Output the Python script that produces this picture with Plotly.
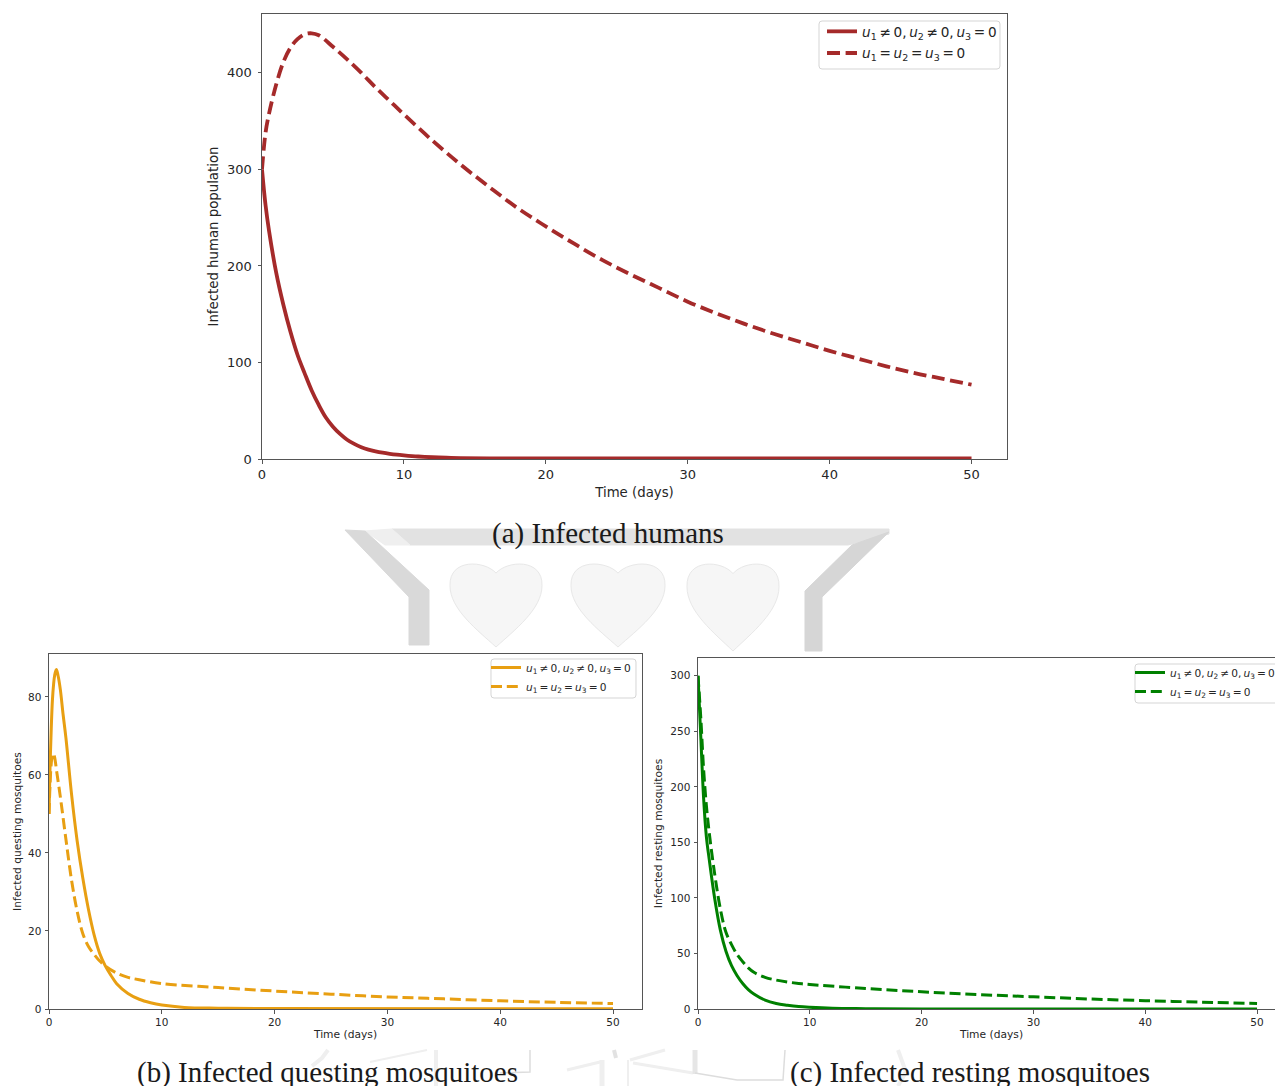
import plotly.graph_objects as go

# ---------- data ----------
t_a_solid = [0, 0.25, 0.5, 1, 1.5, 2, 2.5, 3, 3.5, 4, 4.5, 5, 5.5, 6, 6.5, 7, 7.5, 8, 8.5, 9, 9.5, 10, 11, 12, 13, 14, 16, 20, 30, 50]
i_a_solid = [300, 263, 236, 193, 160, 132, 108, 89, 71, 56, 43, 33.5, 26, 20, 15.6, 12.2, 9.7, 7.9, 6.5, 5.4, 4.5, 3.8, 2.6, 1.8, 1.3, 1, 0.7, 0.6, 0.5, 0.5]
t_a_dash = [0, 0.25, 0.5, 1, 1.5, 2, 2.5, 3, 3.5, 4, 5, 6, 7, 8, 9, 10, 12, 14, 16, 18, 20, 22, 24, 26, 28,
            30, 32, 34, 36, 38, 40, 42, 44, 46, 48, 50]
i_a_dash = [300, 338, 358, 388, 411, 426, 435, 440, 441, 439, 427, 414, 400, 385, 371, 357, 330, 305, 282, 260,
            241, 223, 206, 191, 177, 163, 151, 140, 130, 121, 112, 104, 96, 89, 83, 77]

t_b_solid = [0, 0.1, 0.2, 0.3, 0.4, 0.5, 0.65, 0.8, 1, 1.25, 1.5, 2, 2.5, 3, 3.5, 4, 4.5, 5, 5.5, 6, 7, 8, 9, 10, 12, 15, 20, 50]
i_b_solid = [50, 63, 72, 79, 83, 85.5, 87, 85.5, 82, 75.5, 69.5, 55, 43, 33.5, 25.5, 19, 14.2, 11, 8.6, 6.5, 4, 2.5, 1.6, 1, 0.4, 0.2, 0.1, 0.05]
t_b_dash = [0, 0.1, 0.2, 0.3, 0.4, 0.5, 0.7, 1, 1.5, 2, 2.5, 3, 3.5, 4, 4.5, 5, 6, 7, 8, 10, 15, 20, 25, 30, 35, 40, 45, 50]
i_b_dash = [50, 58, 63, 65, 65.5, 64.5, 60.5, 54.5, 43.5, 33, 25, 19.3, 16, 14, 12.3, 11, 9.2, 8.1, 7.5, 6.5, 5.5, 4.6, 3.8, 3.1, 2.6, 2.1, 1.7, 1.4]

t_c_solid = [0, 0.25, 0.5, 0.75, 1, 1.5, 2, 2.5, 3, 3.5, 4, 4.5, 5, 6, 7, 8, 9, 10, 12, 15, 20, 50]
i_c_solid = [300, 245, 190, 155, 135, 99, 71, 52, 39, 30, 23, 17.5, 13.5, 8, 5, 3.4, 2.2, 1.5, 0.6, 0.3, 0.1, 0.05]
t_c_dash = [0, 0.25, 0.5, 0.75, 1, 1.5, 2, 2.5, 3, 3.5, 4, 4.5, 5, 6, 7, 8, 9, 10, 15, 20, 25, 30, 35, 40, 45, 50]
i_c_dash = [300, 262, 216, 183, 159, 121, 90, 69, 58, 49, 42.6, 37, 33, 28.5, 26, 24.3, 23, 22, 18.5, 15.5, 13, 11, 9, 7.5, 6.2, 5]

label_solid = "<i>u</i><sub>1</sub>\u2009≠\u20090,\u2009<i>u</i><sub>2</sub>\u2009≠\u20090,\u2009<i>u</i><sub>3</sub>\u2009=\u20090"
label_dash = "<i>u</i><sub>1</sub>\u2009=\u2009<i>u</i><sub>2</sub>\u2009=\u2009<i>u</i><sub>3</sub>\u2009=\u20090"
x_title = "Time (days)"
y_titles = ["Infected human population", "Infected questing mosquitoes", "Infected resting mosquitoes"]
captions = ["(a) Infected humans", "(b) Infected questing mosquitoes", "(c) Infected resting mosquitoes"]

# ---------- layout helpers ----------
W, H = 1300, 1086
FONT = "DejaVu Sans"
TXT = "#262626"
AX = "#555555"
def px(x): return x / W
def py(y): return 1 - y / H
def pt(a, b): return f"{a/W:.5f},{1-b/H:.5f}"

def poly(points):
    return "M " + " L ".join(pt(a, b) for a, b in points) + " Z"

def heart(cx, top, w, h):
    L, R, T, B = cx - w / 2, cx + w / 2, top, top + h
    return (f"M {pt(cx, T + h*0.12)} C {pt(cx + w*0.12, T - h*0.03)} {pt(R + w*0.01, T - h*0.06)} {pt(R, T + h*0.27)} "
            f"C {pt(R, T + h*0.55)} {pt(cx + w*0.2, T + h*0.8)} {pt(cx, B)} "
            f"C {pt(cx - w*0.2, T + h*0.8)} {pt(L, T + h*0.55)} {pt(L, T + h*0.27)} "
            f"C {pt(L - w*0.01, T - h*0.06)} {pt(cx - w*0.12, T - h*0.03)} {pt(cx, T + h*0.12)} Z")

def round_box(x0, y0, x1, y1, r=3):
    return (f"M {pt(x0 + r, y0)} L {pt(x1 - r, y0)} Q {pt(x1, y0)} {pt(x1, y0 + r)} L {pt(x1, y1 - r)} "
            f"Q {pt(x1, y1)} {pt(x1 - r, y1)} L {pt(x0 + r, y1)} Q {pt(x0, y1)} {pt(x0, y1 - r)} "
            f"L {pt(x0, y0 + r)} Q {pt(x0, y0)} {pt(x0 + r, y0)} Z")

shapes = []
def wm(path, fill="#e0e0e0", line=None):
    shapes.append(dict(type="path", path=path, xref="paper", yref="paper", layer="below",
                       fillcolor=fill, line=dict(color=line or fill, width=1)))
def stroke(points, width, color="#efefef"):
    shapes.append(dict(type="path", path="M " + " L ".join(pt(a, b) for a, b in points),
                       xref="paper", yref="paper", layer="below", line=dict(color=color, width=width)))

# watermark (top band, legs and hearts)
wm(poly([(392, 529), (889, 529), (889, 534), (848, 545), (410, 545)]), "#e2e2e2")
wm(poly([(365, 531), (392, 529), (410, 545), (385, 545)]), "#efefef")
wm(poly([(345, 530), (365, 531), (429, 590), (429, 645), (409, 645), (409, 597)]), "#d9d9d9")
wm(poly([(889, 532), (822, 597), (822, 651), (805, 651), (805, 591), (852, 545)]), "#d6d6d6")
for cx, top, w_, h_ in [(496, 563, 92, 84), (618, 563, 94, 84), (733, 563, 92, 88)]:
    wm(heart(cx, top, w_, h_), "#f6f6f6", "#e8e8e8")
# watermark fragments under the lower captions
stroke([(328, 1050), (322, 1058), (312, 1066)], 4)
stroke([(370, 1062), (427, 1050)], 2)
stroke([(436, 1050), (436, 1086)], 4)
stroke([(530, 1050), (530, 1072), (500, 1073)], 1.5, "#dddddd")
stroke([(567, 1070), (600, 1062)], 3)
stroke([(602, 1060), (602, 1086)], 5)
stroke([(614, 1050), (616, 1058)], 4, "#e2e2e2")
stroke([(630, 1060), (665, 1050)], 3)
stroke([(628, 1060), (628, 1086)], 2)
stroke([(633, 1063), (693, 1073)], 3)
stroke([(695, 1050), (695, 1074)], 5, "#e6e6e6")
stroke([(695, 1073), (737, 1080), (783, 1080), (785, 1050)], 1.5, "#dddddd")
stroke([(898, 1050), (906, 1072), (898, 1086)], 4)

# legend frames
for box in [(819, 21, 1000, 69), (491, 659, 636, 698), (1135, 664, 1290, 703)]:
    shapes.append(dict(type="path", path=round_box(*box), xref="paper", yref="paper", layer="below",
                       fillcolor="white", line=dict(color="#d5d5d5", width=1)))

fig = go.Figure()
panels = [
    dict(ts=t_a_solid, ys=i_a_solid, td=t_a_dash, yd=i_a_dash, color="#a52a2a", lw=3.8, dash="13px,5.6px",
         suffix="", legend="legend", x0=262, x1=1007, y0=14, y1=459, xmax=52.5, ymax=461,
         tfs=13, lfs=13.3, yticks=[0, 100, 200, 300, 400], tl=3.5, xs=6, ys_=5, tso=3),
    dict(ts=t_b_solid, ys=i_b_solid, td=t_b_dash, yd=i_b_dash, color="#e89f12", lw=3, dash="11px,4.8px",
         suffix="2", legend="legend2", x0=49, x1=642, y0=654, y1=1009, xmax=52.57, ymax=91,
         tfs=10.5, lfs=10.7, yticks=[0, 20, 40, 60, 80], tl=3.5, xs=3, ys_=4, tso=1),
    dict(ts=t_c_solid, ys=i_c_solid, td=t_c_dash, yd=i_c_dash, color="#008000", lw=3, dash="11px,4.8px",
         suffix="3", legend="legend3", x0=698, x1=1285, y0=658, y1=1009, xmax=52.5, ymax=316,
         tfs=10.5, lfs=10.7, yticks=[0, 50, 100, 150, 200, 250, 300], tl=3.5, xs=3, ys_=5, tso=1),
]
layout = {}
for i, p in enumerate(panels):
    xa, ya = "x" + p["suffix"], "y" + p["suffix"]
    fig.add_trace(go.Scatter(x=p["ts"], y=p["ys"], mode="lines", name=label_solid, legend=p["legend"],
                             xaxis=xa, yaxis=ya, legendgroup=f"s{i}",
                             line=dict(color=p["color"], width=p["lw"], shape="spline", smoothing=1)))
    fig.add_trace(go.Scatter(x=p["td"], y=p["yd"], mode="lines", name=label_dash, legend=p["legend"],
                             xaxis=xa, yaxis=ya, legendgroup=f"d{i}",
                             line=dict(color=p["color"], width=p["lw"], dash=p["dash"], shape="spline", smoothing=1)))
    common = dict(showgrid=False, zeroline=False, showline=True, linecolor=AX, linewidth=1, ticks="outside",
                  ticklen=p["tl"], tickwidth=1, tickcolor=AX, tickfont=dict(family=FONT, size=p["tfs"], color=TXT))
    layout["xaxis" + p["suffix"]] = dict(common, domain=[px(p["x0"]), px(p["x1"])], range=[0, p["xmax"]],
                                         anchor=ya, tickvals=[0, 10, 20, 30, 40, 50], mirror=True,
                                         title=dict(text=x_title, standoff=p["xs"],
                                                    font=dict(family=FONT, size=p["lfs"], color=TXT)))
    layout["yaxis" + p["suffix"]] = dict(common, domain=[py(p["y1"]), py(p["y0"])], range=[0, p["ymax"]],
                                         anchor=xa, tickvals=p["yticks"], mirror=True, ticklabelstandoff=p["tso"],
                                         title=dict(text=y_titles[i], standoff=p["ys_"],
                                                    font=dict(family=FONT, size=p["lfs"], color=TXT)))

def legend(xp, yp, size, gap):
    return dict(x=px(xp), y=py(yp), xanchor="left", yanchor="top", bgcolor="rgba(0,0,0,0)",
                borderwidth=0, font=dict(family=FONT, size=size, color=TXT), tracegroupgap=gap)

annotations = [dict(text=c, x=px(a), y=py(b), xref="paper", yref="paper", showarrow=False, xanchor="center",
                    yanchor="middle", font=dict(family="Liberation Serif", size=29, color="#1a1a1a"))
               for c, a, b in zip(captions, [607.5, 327, 970], [533, 1072, 1072])]

fig.update_layout(width=W, height=H, margin=dict(l=0, r=0, t=0, b=0, autoexpand=False), paper_bgcolor="white",
                  plot_bgcolor="rgba(0,0,0,0)", autosize=False, shapes=shapes, annotations=annotations,
                  legend=legend(822, 16, 13.6, 1), legend2=legend(486, 653, 10.6, 0), legend3=legend(1130, 658, 10.6, 0),
                  **layout)
fig.write_html("out.html", config={"displayModeBar": False},
               post_script="document.body.style.margin='0';document.body.style.overflow='hidden';document.documentElement.style.overflow='hidden';")
